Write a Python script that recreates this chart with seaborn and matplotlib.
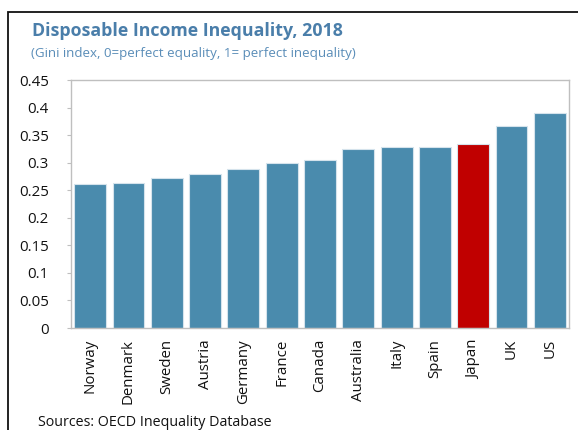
import matplotlib
matplotlib.use("Agg")
import matplotlib.pyplot as plt
from matplotlib.patches import Rectangle
import seaborn as sns
import pandas as pd

countries = ["Norway", "Denmark", "Sweden", "Austria", "Germany", "France", "Canada",
             "Australia", "Italy", "Spain", "Japan", "UK", "US"]
gini = [0.262, 0.263, 0.273, 0.279, 0.288, 0.299, 0.304,
        0.325, 0.329, 0.329, 0.334, 0.366, 0.391]
highlight = "Japan"
y_ticks = [0, 0.05, 0.1, 0.15, 0.2, 0.25, 0.3, 0.35, 0.4, 0.45]
y_labels = ["0", "0.05", "0.1", "0.15", "0.2", "0.25", "0.3", "0.35", "0.4", "0.45"]

sns.set_theme(style="white")
plt.rcParams["font.family"] = ["Open Sans", "DejaVu Sans"]

df = pd.DataFrame({"country": countries, "gini": gini})
palette = {c: ("#C00000" if c == highlight else "#4A8BAD") for c in countries}

W, H = 578, 430
fig = plt.figure(figsize=(W / 100, H / 100), dpi=100)
ax = fig.add_axes([71 / W, 1 - 328 / H, (569 - 71) / W, (328 - 80) / H])

sns.barplot(data=df, x="country", y="gini", hue="country", palette=palette,
            saturation=1, width=0.83, edgecolor="#D5E3EC", linewidth=0.8,
            legend=False, ax=ax)

ax.set_ylim(0, 0.45)
ax.set_xlim(-0.5, len(countries) - 0.5)
ax.set_yticks(y_ticks)
ax.set_yticklabels(y_labels, fontsize=10.8, color="#111111")
ax.tick_params(axis="x", labelrotation=90, labelsize=10.8, colors="#111111", length=0, pad=8)
ax.tick_params(axis="y", length=3, width=0.8, color="#BFBFBF", pad=13, left=True)
ax.set_xlabel("")
ax.set_ylabel("")
for s in ax.spines.values():
    s.set_color("#BFBFBF")
    s.set_linewidth(1.0)

fig.text(32 / W, 1 - 31 / H, "Disposable Income Inequality, 2018", fontsize=12.8,
         fontweight="bold", color="#4A7EAA", va="center", ha="left")
fig.text(31 / W, 1 - 53 / H, "(Gini index, 0=perfect equality, 1= perfect inequality)",
         fontsize=9.6, color="#5A8DB8", va="center", ha="left")
fig.text(38 / W, 1 - 425.5 / H, "Sources: OECD Inequality Database", fontsize=10.3,
         color="#111111", va="baseline", ha="left")

# outer frame running off the right and bottom edges
fig.patches.append(Rectangle((8 / W, -0.1), 1.2, 1 - 12 / H + 0.1, transform=fig.transFigure,
                             fill=False, edgecolor="#111111", linewidth=1.3))

fig.savefig("out.png", dpi=100)
